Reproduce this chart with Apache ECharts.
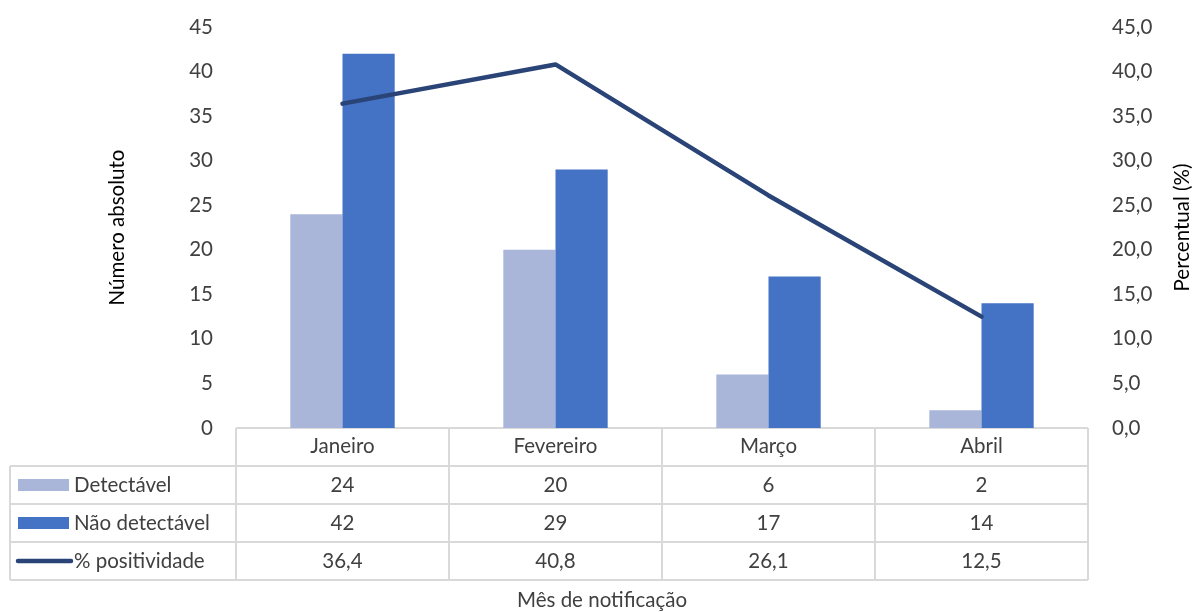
<!DOCTYPE html>
<html>
<head>
<meta charset="utf-8">
<script src="https://cdn.jsdelivr.net/npm/echarts@6/dist/echarts.min.js"></script>
<style>
  html, body { margin: 0; padding: 0; background: #fff; }
  #main { width: 1195px; height: 612px; }
</style>
</head>
<body>
<div id="main"></div>
<script>
// dados
const months = ['Janeiro', 'Fevereiro', 'Março', 'Abril'];
const detectavel = [24, 20, 6, 2];
const naoDetectavel = [42, 29, 17, 14];
const positividade = [36.4, 40.8, 26.1, 12.5];
const leftTicks = [0, 5, 10, 15, 20, 25, 30, 35, 40, 45];

const seriesNames = ['Detectável', 'Não detectável', '% positividade'];
const colors = ['#a9b6da', '#4472c4', '#2a4477'];

const font = 'Lato, "Open Sans", sans-serif';
const fs = 20.5;
const textColor = '#404040';
const borderColor = '#d9d9d9';

// layout
const gridL = 236, gridR = 1088, gridT = 27, gridB = 428;
const tableL = 10, rowH = 38;

const fmt = v => v.toFixed(1).replace('.', ',');

const chart = echarts.init(document.getElementById('main'), null, { renderer: 'canvas' });

// tabela de dados (linhas + textos)
function buildTable() {
  const g = [];
  const colW = (gridR - gridL) / months.length;
  const line = (x1, y1, x2, y2) => g.push({
    type: 'line', silent: true,
    shape: { x1, y1, x2, y2 },
    style: { stroke: borderColor, lineWidth: 2 }
  });
  // horizontais
  line(gridL, gridB, gridR, gridB);
  for (let r = 1; r <= 4; r++) line(tableL, gridB + r * rowH, gridR, gridB + r * rowH);
  // verticais
  line(tableL, gridB + rowH, tableL, gridB + 4 * rowH);
  for (let c = 0; c <= months.length; c++) {
    const x = gridL + c * colW;
    line(x, gridB, x, gridB + 4 * rowH);
  }
  const rows = [detectavel, naoDetectavel, positividade.map(fmt)];
  rows.forEach((vals, r) => {
    const cy = gridB + (r + 1.5) * rowH;
    vals.forEach((v, c) => {
      g.push({
        type: 'text', silent: true,
        x: gridL + (c + 0.5) * colW, y: cy,
        style: { text: String(v), font: fs + 'px ' + font, fill: textColor, align: 'center', verticalAlign: 'middle' }
      });
    });
    // legenda
    if (r < 2) {
      g.push({ type: 'rect', silent: true, shape: { x: 18, y: cy - 6, width: 51, height: 12 }, style: { fill: colors[r] } });
    } else {
      g.push({ type: 'line', silent: true, shape: { x1: 18, y1: cy, x2: 71, y2: cy },
        style: { stroke: colors[2], lineWidth: 4.5, lineCap: 'round' } });
    }
    g.push({
      type: 'text', silent: true, x: 74, y: cy,
      style: { text: seriesNames[r], font: fs + 'px ' + font, fill: textColor, align: 'left', verticalAlign: 'middle' }
    });
  });
  g.push({
    type: 'text', silent: true, x: 602, y: 600,
    style: { text: 'Mês de notificação', font: fs + 'px ' + font, fill: textColor, align: 'center', verticalAlign: 'middle' }
  });
  return g;
}

const option = {
  animation: false,
  textStyle: { fontFamily: font },
  grid: {
    left: gridL, right: 1195 - gridR, top: gridT, bottom: 612 - gridB,
    containLabel: false, outerBoundsMode: 'none'
  },
  xAxis: {
    type: 'category',
    data: months,
    axisLine: { show: false },
    axisTick: { show: false },
    axisLabel: { margin: 8, fontSize: fs, color: textColor, fontFamily: font }
  },
  yAxis: [
    {
      type: 'value', min: leftTicks[0], max: leftTicks[leftTicks.length - 1], interval: 5,
      name: 'Número absoluto', nameLocation: 'middle', nameGap: 108, nameRotate: 90,
      nameTextStyle: { fontSize: fs, color: '#000', fontFamily: font },
      axisLine: { show: false }, axisTick: { show: false }, splitLine: { show: false },
      axisLabel: { margin: 23, fontSize: fs, color: textColor, fontFamily: font }
    },
    {
      type: 'value', min: 0, max: 45, interval: 5, position: 'right',
      name: 'Percentual (%)', nameLocation: 'middle', nameGap: 84, nameRotate: 90,
      nameTextStyle: { fontSize: fs, color: '#000', fontFamily: font },
      axisLine: { show: false }, axisTick: { show: false }, splitLine: { show: false },
      axisLabel: { margin: 24, fontSize: fs, color: textColor, fontFamily: font, formatter: fmt }
    }
  ],
  series: [
    {
      name: seriesNames[0], type: 'bar', data: detectavel, yAxisIndex: 0,
      barGap: '0%', barCategoryGap: '51%', itemStyle: { color: colors[0] }
    },
    {
      name: seriesNames[1], type: 'bar', data: naoDetectavel, yAxisIndex: 0,
      barGap: '0%', barCategoryGap: '51%', itemStyle: { color: colors[1] }
    },
    {
      name: seriesNames[2], type: 'line', data: positividade, yAxisIndex: 1,
      showSymbol: false, symbol: 'none', z: 5,
      lineStyle: { color: colors[2], width: 4.5, cap: 'round' }
    }
  ],
  graphic: buildTable()
};

chart.setOption(option);
</script>
</body>
</html>
